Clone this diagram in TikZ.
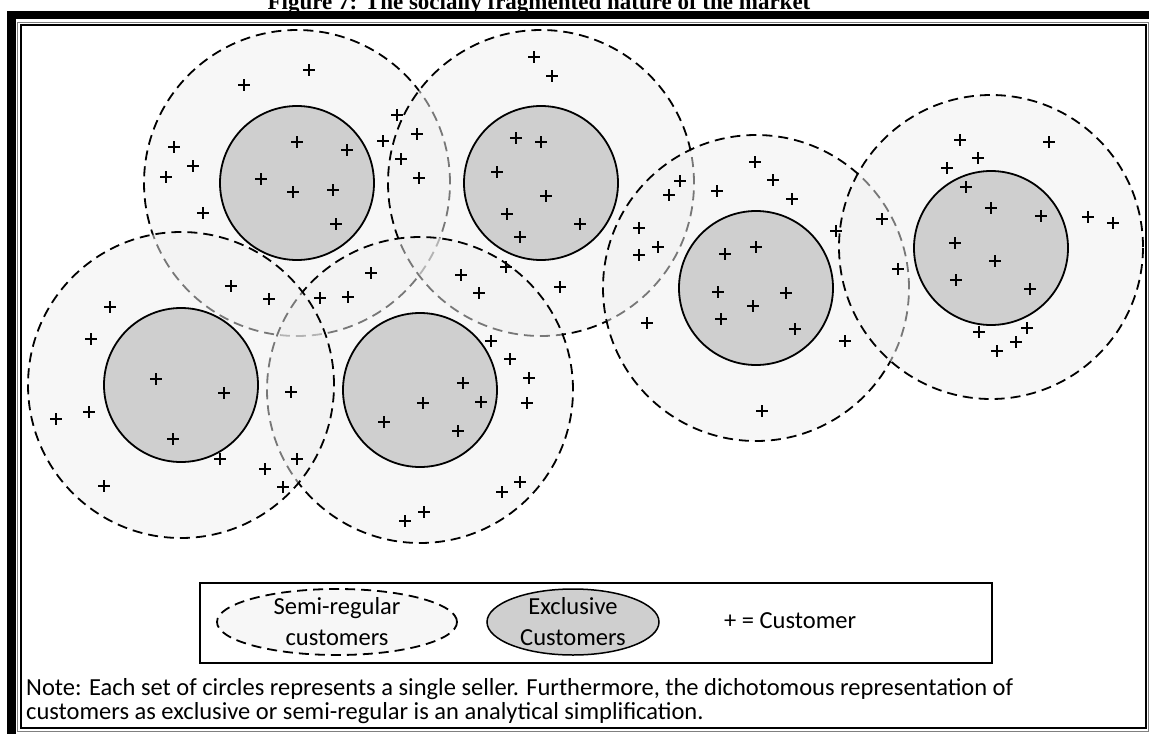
\documentclass[tikz,border=0pt]{standalone}
\usepackage{fontspec}
\usetikzlibrary{shapes.geometric}
\setmainfont{Carlito}
\newfontfamily\titlefont{Liberation Serif}
\definecolor{ringgray}{RGB}{239,239,239}
\definecolor{coregray}{RGB}{207,207,207}
\definecolor{legendgray}{RGB}{247,247,247}
\tikzset{
  semiring/.style={fill=ringgray, fill opacity=0.5, line width=1.8pt, dash pattern=on 10pt off 6pt},
  corering/.style={fill=coregray, line width=1.8pt},
  cust/.style={line width=1.6pt},
  keytext/.style={font=\fontsize{24.5}{31}\selectfont}
}
\begin{document}
\begin{tikzpicture}[x=1pt, y=-1pt]
  \useasboundingbox (0,0) rectangle (1149,734);
  % title, cut by the page top
  \node[anchor=base, inner sep=0pt, font=\titlefont\bfseries\fontsize{23}{27}\selectfont] (title) at (539,9) {Figure 7: The socially fragmented nature of the market};
  % frame
  \fill (7,11) rectangle (1149,19);
  \fill (7,11) rectangle (16,734);
  \draw[gray, line width=1pt] (17.5,22) rectangle (1148,731);
  \draw[line width=2pt] (20.5,25) rectangle (1146,728);
  % semi-regular rings, one per seller
  \draw[semiring] (297,183) circle (153pt);
  \draw[semiring] (541,183) circle (153pt);
  \draw[semiring] (756,288) circle (153pt);
  \draw[semiring] (991,247) circle (152pt);
  \draw[semiring] (420,390) circle (153pt);
  \draw[semiring] (181,385) circle (153pt);
  % exclusive cores
  \foreach \c in {(297,183),(541,183),(756,288),(991,248),(420,390),(181,385)}
    \draw[corering] \c circle (77pt);
  % customers
  \foreach \p in {(309,70),(244,85),(174,147),(193,166),(166,177),(203,213),(297,142),(347,150),(261,179),(293,192),(333,190),(336,224),(383,141),(397,115),(417,134),(401,159),(419,178),
    (534,57),(552,76),(516,138),(541,142),(497,172),(546,196),(507,214),(580,224),(520,237),
    (231,286),(269,299),(320,298),(348,297),(371,273),(461,275),(479,293),(506,267),(560,287),
    (755,162),(773,180),(792,199),(717,191),(680,181),(669,195),(639,228),(658,247),(639,255),(725,254),(756,247),(718,292),(753,306),(786,293),(721,319),(795,329),(647,323),(836,231),(845,341),(762,411),
    (882,219),(898,269),(960,140),(1049,142),(978,158),(947,168),(966,187),(991,208),(1041,216),(1088,217),(1113,223),(955,243),(995,261),(956,280),(1030,289),(979,332),(1027,328),(1016,342),(997,351),
    (110,307),(91,339),(156,379),(224,393),(173,439),(291,392),(89,412),(56,419),(220,459),(265,469),(297,459),(283,487),(104,486),
    (491,341),(510,359),(529,378),(527,403),(463,383),(423,403),(481,402),(384,422),(458,431),(520,482),(502,492),(424,512),(405,521)}
    \draw[cust] \p +(-6,0) -- +(6,0) \p +(0,-6) -- +(0,6);
  % legend
  \draw[line width=1.2pt] (200,583) rectangle (992,663);
  \node[draw, ellipse, fill=legendgray, line width=1.8pt, dash pattern=on 10pt off 6pt, minimum width=240pt, minimum height=66pt] (semikey) at (337,622) {};
  \node[draw, ellipse, fill=coregray, line width=1.5pt, minimum width=172pt, minimum height=66pt] (corekey) at (573,622) {};
  \node[align=center, keytext] (semitext) at (semikey) {Semi-regular\\customers};
  \node[align=center, keytext] (coretext) at (corekey) {Exclusive\\Customers};
  \node[anchor=west, inner sep=0pt, keytext] (custkey) at (724,621) {+ = Customer};
  % note
  \node[anchor=base west, inner sep=0pt, keytext] (note1) at (26,695) {Note: Each set of circles represents a single seller. Furthermore, the dichotomous representation of};
  \node[anchor=base west, inner sep=0pt, keytext] (note2) at (26,719) {customers as exclusive or semi-regular is an analytical simplification.};
\end{tikzpicture}
\end{document}
